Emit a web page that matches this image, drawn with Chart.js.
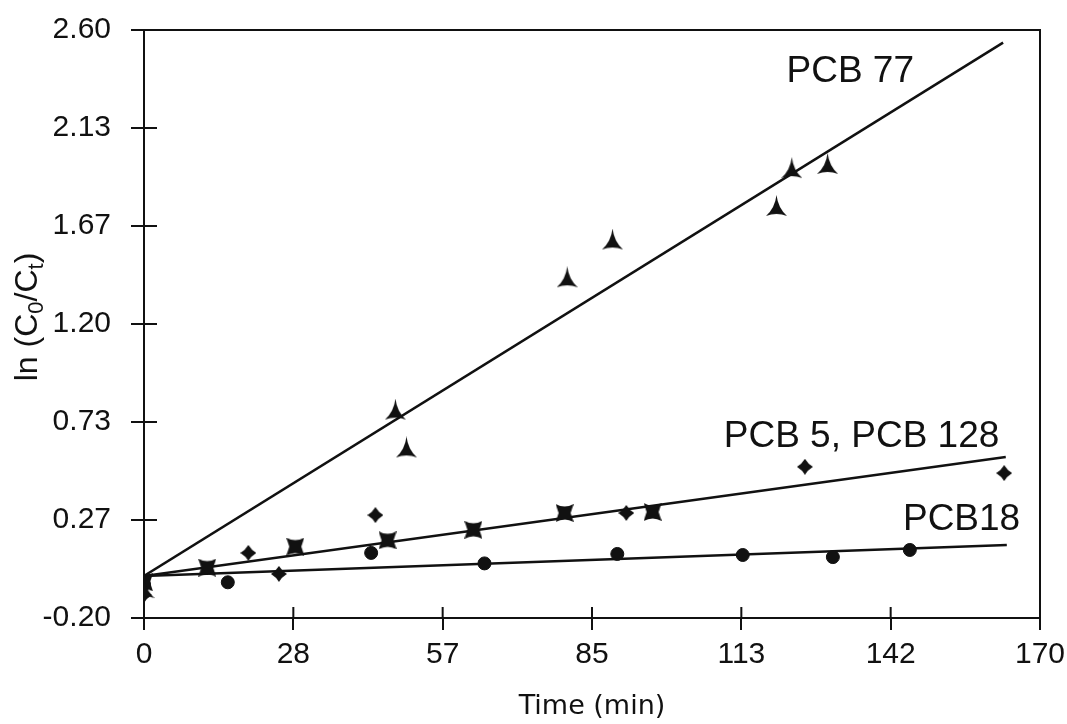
<!DOCTYPE html>
<html>
<head>
<meta charset="utf-8">
<script src="https://cdn.jsdelivr.net/npm/chart.js@4.4.1/dist/chart.umd.min.js"></script>
<style>
  html, body { margin: 0; padding: 0; background: #fff; }
  #wrap { width: 1067px; height: 724px; position: relative; }
</style>
</head>
<body>
<div id="wrap"><canvas id="rate-chart"></canvas></div>
<script>
// axis tick labels (evenly spaced over the axis range)
var xTickLabels = ['0', '28', '57', '85', '113', '142', '170'];
var yTickLabels = ['-0.20', '0.27', '0.73', '1.20', '1.67', '2.13', '2.60'];

// PCB 77 (triangles)
var pcb77Time = [0, 47.7, 49.8, 80.3, 88.9, 120.0, 122.9, 129.7];
var pcb77Val  = [-0.06, 0.79, 0.61, 1.42, 1.60, 1.76, 1.94, 1.96];

// PCB 5 (four-point diamonds)
var pcb5Time = [0, 19.8, 25.6, 43.9, 91.5, 125.4, 163.2];
var pcb5Val  = [-0.09, 0.11, 0.01, 0.29, 0.30, 0.52, 0.49];

// PCB 128 (bow-tie squares)
var pcb128Time = [0, 12.0, 28.7, 46.2, 62.5, 79.8, 96.5];
var pcb128Val  = [-0.03, 0.04, 0.14, 0.17, 0.22, 0.30, 0.305];

// PCB 18 (circles)
var pcb18Time = [0, 15.9, 43.1, 64.6, 89.8, 113.6, 130.7, 145.3];
var pcb18Val  = [-0.04, -0.03, 0.11, 0.06, 0.105, 0.10, 0.09, 0.124];

// fitted lines, end points
var fit77Time = [0, 163];      var fit77Val = [0, 2.54];
var fit5Time = [0, 163.5];     var fit5Val = [0, 0.567];
var fit18Time = [0, 163.7];    var fit18Val = [0, 0.148];

// curve labels
var curveLabels = ['PCB 77', 'PCB 5, PCB 128', 'PCB18'];

var INK = '#111';

function pts(xs, ys) {
    return xs.map(function(x, i) { return { x: x, y: ys[i] }; });
}

// marker shapes
function markerCanvas(w, h, draw) {
    var c = document.createElement('canvas');
    c.width = w; c.height = h;
    var g = c.getContext('2d');
    g.fillStyle = INK;
    g.beginPath();
    draw(g);
    g.closePath();
    g.fill();
    return c;
}
var triMarker = markerCanvas(21, 23, function(g) {
    g.moveTo(10.5, 0);
    g.quadraticCurveTo(12, 13, 21, 21);
    g.quadraticCurveTo(10.5, 17, 0, 21);
    g.quadraticCurveTo(9, 13, 10.5, 0);
});
var starMarker = markerCanvas(16, 16, function(g) {
    g.moveTo(8, 0);
    g.quadraticCurveTo(11, 5, 16, 8);
    g.quadraticCurveTo(11, 11, 8, 16);
    g.quadraticCurveTo(5, 11, 0, 8);
    g.quadraticCurveTo(5, 5, 8, 0);
});
var tieMarker = markerCanvas(18, 18, function(g) {
    g.moveTo(0, 0);
    g.quadraticCurveTo(9, 5, 18, 0);
    g.lineTo(15, 9);
    g.lineTo(18, 18);
    g.quadraticCurveTo(9, 13, 0, 18);
    g.lineTo(3, 9);
});

// box, inward tick halves, y title with subscripts, curve labels
var decorPlugin = {
    id: 'decor',
    afterDraw: function(chart) {
        var ctx = chart.ctx, a = chart.chartArea;
        var xs = chart.scales.x, ys = chart.scales.y;
        ctx.save();
        ctx.strokeStyle = INK;
        ctx.lineWidth = 2;
        ctx.beginPath();
        ctx.moveTo(a.left - 13, a.top); ctx.lineTo(a.right, a.top);
        ctx.lineTo(a.right, a.bottom);
        ys.ticks.forEach(function(t) {
            var py = ys.getPixelForValue(t.value);
            ctx.moveTo(a.left, py); ctx.lineTo(a.left + 13, py);
        });
        xs.ticks.forEach(function(t) {
            var px = xs.getPixelForValue(t.value);
            ctx.moveTo(px, a.bottom); ctx.lineTo(px, a.bottom - 11);
        });
        ctx.stroke();

        // y axis title
        ctx.fillStyle = INK;
        ctx.translate(28, 317);
        ctx.rotate(-Math.PI / 2);
        ctx.textBaseline = 'middle';
        var parts = [['ln (C', 32, 0], ['0', 22, 9], ['/C', 32, 0], ['t', 22, 9], [')', 32, 0]];
        var total = 0;
        parts.forEach(function(p) {
            ctx.font = p[1] + 'px "Liberation Sans", Arial, sans-serif';
            total += ctx.measureText(p[0]).width;
        });
        var cx = -total / 2;
        parts.forEach(function(p) {
            ctx.font = p[1] + 'px "Liberation Sans", Arial, sans-serif';
            ctx.textAlign = 'left';
            ctx.fillText(p[0], cx, p[2]);
            cx += ctx.measureText(p[0]).width;
        });
        ctx.restore();

        // curve labels
        var spots = [[121.9, 2.352], [110.0, 0.614], [144.0, 0.219]];
        ctx.save();
        ctx.fillStyle = INK;
        ctx.font = '37px "Liberation Sans", Arial, sans-serif';
        ctx.textAlign = 'left';
        ctx.textBaseline = 'alphabetic';
        curveLabels.forEach(function(txt, i) {
            ctx.fillText(txt, xs.getPixelForValue(spots[i][0]), ys.getPixelForValue(spots[i][1]));
        });
        ctx.restore();
    }
};

var ctx = document.getElementById('rate-chart').getContext('2d');

var rateChart = new Chart(ctx, {
    type: 'scatter',
    data: {
        datasets: [
            { label: 'PCB 77 fit', data: pts(fit77Time, fit77Val), showLine: true, pointRadius: 0,
              borderColor: INK, borderWidth: 2.5, order: 2 },
            { label: 'PCB 5/128 fit', data: pts(fit5Time, fit5Val), showLine: true, pointRadius: 0,
              borderColor: INK, borderWidth: 2.5, order: 2 },
            { label: 'PCB 18 fit', data: pts(fit18Time, fit18Val), showLine: true, pointRadius: 0,
              borderColor: INK, borderWidth: 2.5, order: 2 },
            { label: 'PCB 77', data: pts(pcb77Time, pcb77Val), pointStyle: triMarker, order: 1 },
            { label: 'PCB 5', data: pts(pcb5Time, pcb5Val), pointStyle: starMarker, order: 1 },
            { label: 'PCB 128', data: pts(pcb128Time, pcb128Val), pointStyle: tieMarker, order: 1 },
            { label: 'PCB 18', data: pts(pcb18Time, pcb18Val), pointStyle: 'circle', pointRadius: 6.5,
              backgroundColor: INK, borderColor: INK, order: 1 }
        ]
    },
    options: {
        responsive: true,
        maintainAspectRatio: false,
        animation: false,
        layout: {
            padding: { top: 30, right: 27, left: 0, bottom: 0 }
        },
        plugins: {
            legend: { display: false },
            tooltip: { enabled: false }
        },
        scales: {
            x: {
                type: 'linear',
                min: 0,
                max: 170,
                afterBuildTicks: function(s) {
                    s.ticks = xTickLabels.map(function(l, i) { return { value: 170 * i / 6 }; });
                },
                afterFit: function(s) {
                    s.height = 106;
                    s.paddingLeft = 0;
                    s.paddingRight = 0;
                },
                border: { display: true, color: INK, width: 2 },
                grid: { drawOnChartArea: false, drawTicks: true, tickLength: 12, color: INK, lineWidth: 2 },
                ticks: {
                    padding: 7,
                    color: INK,
                    maxRotation: 0,
                    font: { family: '"Liberation Sans", Arial', size: 30 },
                    callback: function(v, i) { return xTickLabels[i]; }
                },
                title: {
                    display: true,
                    text: 'Time (min)',
                    color: INK,
                    font: { family: '"DejaVu Sans"', size: 27 },
                    padding: { top: 0, bottom: 1 }
                }
            },
            y: {
                type: 'linear',
                min: -0.2,
                max: 2.6,
                afterBuildTicks: function(s) {
                    s.ticks = yTickLabels.map(function(l, i) { return { value: -0.2 + 2.8 * i / 6 }; });
                },
                afterFit: function(s) {
                    s.width = 144;
                    s.paddingTop = 0;
                    s.paddingBottom = 0;
                },
                border: { display: true, color: INK, width: 2 },
                grid: { drawOnChartArea: false, drawTicks: true, tickLength: 13, color: INK, lineWidth: 2 },
                ticks: {
                    padding: 20,
                    color: INK,
                    font: { family: '"Liberation Sans", Arial', size: 30 },
                    callback: function(v, i) { return yTickLabels[i]; }
                }
            }
        }
    },
    plugins: [decorPlugin]
});
</script>
</body>
</html>
